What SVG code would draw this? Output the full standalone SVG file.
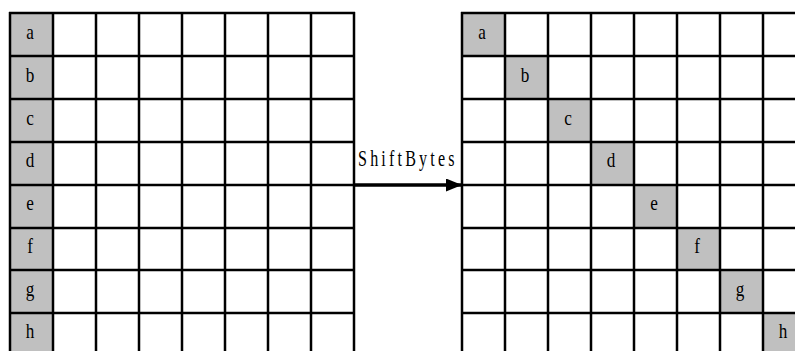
<svg xmlns="http://www.w3.org/2000/svg" width="795" height="351" viewBox="0 0 795 351">
<style>
.bg{fill:#ffffff}
.cell{fill:#c0c0c0;stroke:none}
.grid line{stroke:#000;stroke-width:2.5}
.lbl{font-family:"Liberation Serif","Times New Roman",serif;font-size:22px;fill:#000;text-anchor:middle}
.title{font-family:"Liberation Serif","Times New Roman",serif;font-size:23px;fill:#000}
</style>
<defs>
<marker id="ah" markerWidth="16" markerHeight="13" refX="16" refY="6.5" orient="auto" markerUnits="userSpaceOnUse">
<polygon points="0,0 16,6.5 0,13" fill="#000"/>
</marker>
</defs>
<rect class="bg" x="0" y="0" width="795" height="351"/>
<g id="left-grid">
<rect class="cell" x="10" y="13" width="43" height="343"/>
<g class="grid">
<line x1="9" y1="13" x2="355" y2="13"/>
<line x1="9" y1="56" x2="355" y2="56"/>
<line x1="9" y1="99" x2="355" y2="99"/>
<line x1="9" y1="142" x2="355" y2="142"/>
<line x1="9" y1="185" x2="355" y2="185"/>
<line x1="9" y1="228" x2="355" y2="228"/>
<line x1="9" y1="270" x2="355" y2="270"/>
<line x1="9" y1="313" x2="355" y2="313"/>
<line x1="10" y1="12" x2="10" y2="351"/>
<line x1="53" y1="12" x2="53" y2="351"/>
<line x1="96" y1="12" x2="96" y2="351"/>
<line x1="139" y1="12" x2="139" y2="351"/>
<line x1="182" y1="12" x2="182" y2="351"/>
<line x1="225" y1="12" x2="225" y2="351"/>
<line x1="268" y1="12" x2="268" y2="351"/>
<line x1="311" y1="12" x2="311" y2="351"/>
<line x1="354" y1="12" x2="354" y2="351"/>
</g>
<text class="lbl" transform="translate(30,39) scale(0.78,1)">a</text>
<text class="lbl" transform="translate(30,82) scale(0.78,1)">b</text>
<text class="lbl" transform="translate(30,125) scale(0.78,1)">c</text>
<text class="lbl" transform="translate(30,167) scale(0.78,1)">d</text>
<text class="lbl" transform="translate(30,210) scale(0.78,1)">e</text>
<text class="lbl" transform="translate(30,253) scale(0.78,1)">f</text>
<text class="lbl" transform="translate(30,296) scale(0.78,1)">g</text>
<text class="lbl" transform="translate(30,338) scale(0.78,1)">h</text>
</g>
<g id="right-grid">
<rect class="cell" x="462" y="13" width="43" height="43"/>
<rect class="cell" x="505" y="56" width="43" height="43"/>
<rect class="cell" x="548" y="99" width="43" height="43"/>
<rect class="cell" x="591" y="142" width="43" height="43"/>
<rect class="cell" x="634" y="185" width="43" height="43"/>
<rect class="cell" x="677" y="228" width="43" height="42"/>
<rect class="cell" x="720" y="270" width="43" height="43"/>
<rect class="cell" x="763" y="313" width="43" height="43"/>
<g class="grid">
<line x1="461" y1="13" x2="795" y2="13"/>
<line x1="461" y1="56" x2="795" y2="56"/>
<line x1="461" y1="99" x2="795" y2="99"/>
<line x1="461" y1="142" x2="795" y2="142"/>
<line x1="461" y1="185" x2="795" y2="185"/>
<line x1="461" y1="228" x2="795" y2="228"/>
<line x1="461" y1="270" x2="795" y2="270"/>
<line x1="461" y1="313" x2="795" y2="313"/>
<line x1="462" y1="12" x2="462" y2="351"/>
<line x1="505" y1="12" x2="505" y2="351"/>
<line x1="548" y1="12" x2="548" y2="351"/>
<line x1="591" y1="12" x2="591" y2="351"/>
<line x1="634" y1="12" x2="634" y2="351"/>
<line x1="677" y1="12" x2="677" y2="351"/>
<line x1="720" y1="12" x2="720" y2="351"/>
<line x1="763" y1="12" x2="763" y2="351"/>
</g>
<text class="lbl" transform="translate(482,39) scale(0.78,1)">a</text>
<text class="lbl" transform="translate(525,82) scale(0.78,1)">b</text>
<text class="lbl" transform="translate(568,125) scale(0.78,1)">c</text>
<text class="lbl" transform="translate(611,167) scale(0.78,1)">d</text>
<text class="lbl" transform="translate(654,210) scale(0.78,1)">e</text>
<text class="lbl" transform="translate(697,253) scale(0.78,1)">f</text>
<text class="lbl" transform="translate(740,296) scale(0.78,1)">g</text>
<text class="lbl" transform="translate(783,338) scale(0.78,1)">h</text>
</g>
<g id="connectors">
<line x1="354" y1="185" x2="462" y2="185" stroke="#000" stroke-width="3.5" marker-end="url(#ah)"/>
<text class="title" transform="translate(358,166) scale(0.7,1)" textLength="138" lengthAdjust="spacing">ShiftBytes</text>
</g>
</svg>
